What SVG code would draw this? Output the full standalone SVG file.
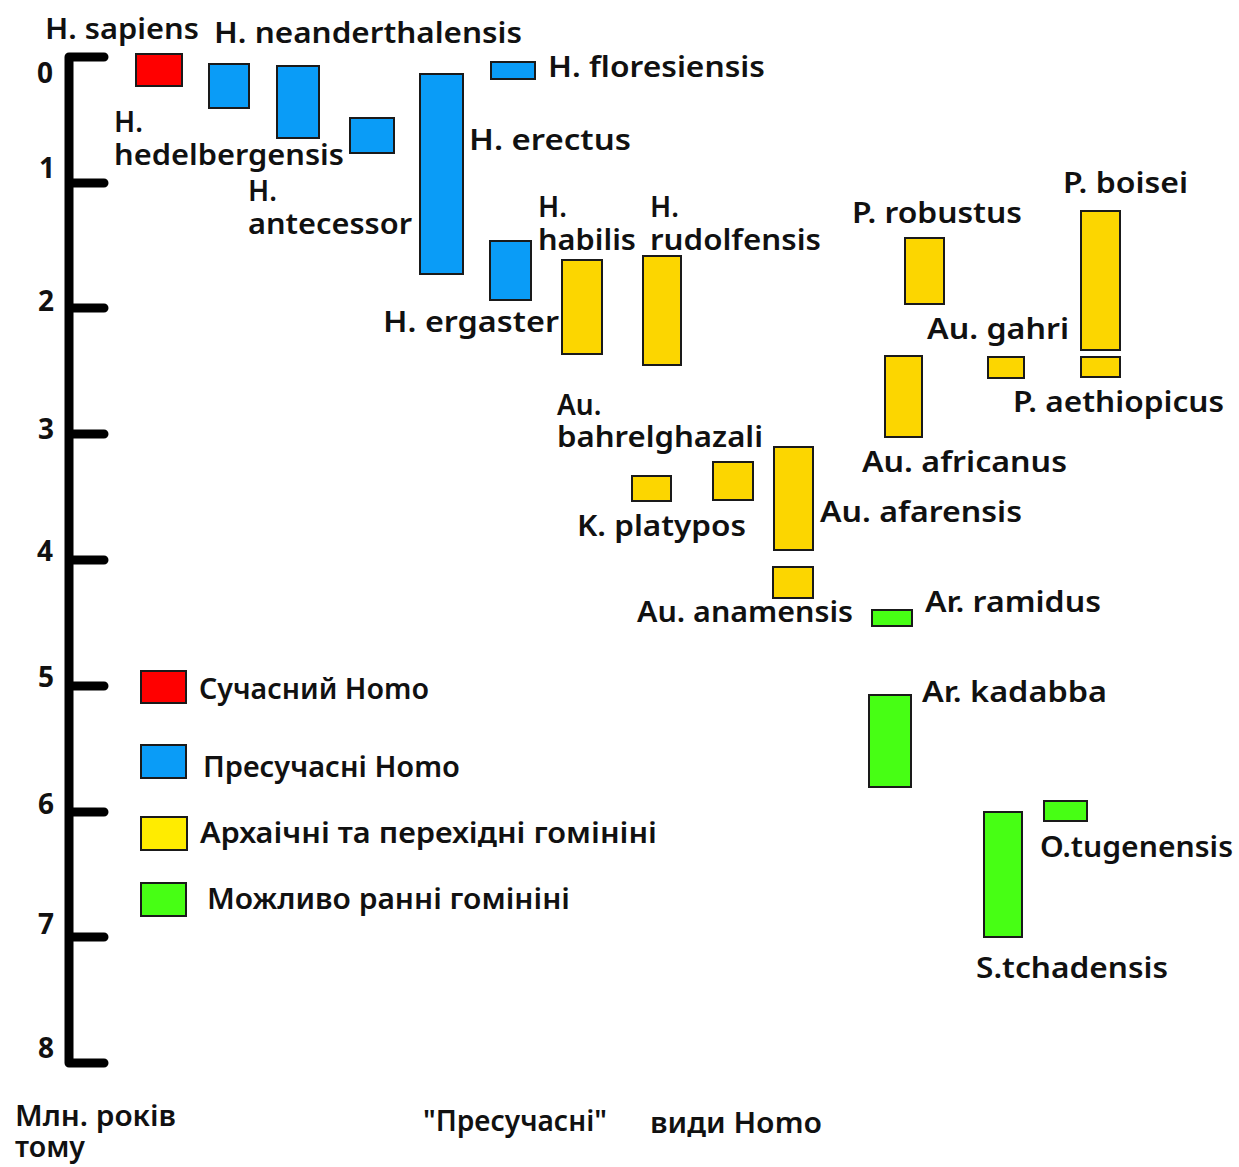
<svg xmlns="http://www.w3.org/2000/svg" width="1239" height="1167" viewBox="0 0 1239 1167">
<style>
text{font-family:"Noto Sans","DejaVu Sans",sans-serif;font-weight:600;font-size:28px;fill:#111}
.d{font-size:28px;font-weight:700}
.b{stroke:#1a1a1a;stroke-width:2}
.r{fill:#ff0000}.bl{fill:#0a9cf7}.y{fill:#fcd600}.g{fill:#47ff14}
.ly{fill:#ffec00}
</style>
<rect width="1239" height="1167" fill="#fff"/>
<g id="axis">
<path d="M104 57 H69 V1063 H104 M69 183 H104 M69 308 H104 M69 434 H104 M69 560 H104 M69 686 H104 M69 812 H104 M69 937 H104" fill="none" stroke="#000" stroke-width="9" stroke-linecap="round" stroke-linejoin="round"/>
<text class="d" x="37" y="83">0</text>
<text class="d" x="39" y="178">1</text>
<text class="d" x="38" y="311">2</text>
<text class="d" x="38" y="439">3</text>
<text class="d" x="37" y="561">4</text>
<text class="d" x="38" y="687">5</text>
<text class="d" x="38" y="814">6</text>
<text class="d" x="38" y="934">7</text>
<text class="d" x="38" y="1058">8</text>
<text x="15" y="1126"><tspan x="15" y="1126" textLength="161" lengthAdjust="spacingAndGlyphs">Млн. років</tspan><tspan x="15" y="1157" textLength="70" lengthAdjust="spacingAndGlyphs">тому</tspan></text>
<text x="423" y="1131" textLength="184" lengthAdjust="spacingAndGlyphs">"Пресучасні"</text>
<text x="650" y="1133" textLength="172" lengthAdjust="spacingAndGlyphs">види Homo</text>
</g>
<g id="connectors"></g>
<g id="h-sapiens"><rect class="b r" x="136" y="54" width="46" height="32"/><text x="45" y="39" textLength="154" lengthAdjust="spacingAndGlyphs">H. sapiens</text></g>
<g id="h-neanderthalensis"><rect class="b bl" x="209" y="64" width="40" height="44"/><text x="214" y="43" textLength="308" lengthAdjust="spacingAndGlyphs">H. neanderthalensis</text></g>
<g id="h-heidelbergensis"><rect class="b bl" x="277" y="66" width="42" height="72"/><text x="114" y="132"><tspan x="114" y="132">H.</tspan><tspan x="114" y="165" textLength="230" lengthAdjust="spacingAndGlyphs">hedelbergensis</tspan></text></g>
<g id="h-antecessor"><rect class="b bl" x="350" y="118" width="44" height="35"/><text x="248" y="201"><tspan x="248" y="201">H.</tspan><tspan x="248" y="234" textLength="164" lengthAdjust="spacingAndGlyphs">antecessor</tspan></text></g>
<g id="h-erectus"><rect class="b bl" x="420" y="74" width="43" height="200"/><text x="469" y="150" textLength="162" lengthAdjust="spacingAndGlyphs">H. erectus</text></g>
<g id="h-floresiensis"><rect class="b bl" x="491" y="62" width="44" height="17"/><text x="548" y="77" textLength="217" lengthAdjust="spacingAndGlyphs">H. floresiensis</text></g>
<g id="h-ergaster"><rect class="b bl" x="490" y="241" width="41" height="59"/><text x="383" y="332" textLength="176" lengthAdjust="spacingAndGlyphs">H. ergaster</text></g>
<g id="h-habilis"><rect class="b y" x="562" y="260" width="40" height="94"/><text x="538" y="217"><tspan x="538" y="217">H.</tspan><tspan x="538" y="250" textLength="98" lengthAdjust="spacingAndGlyphs">habilis</tspan></text></g>
<g id="h-rudolfensis"><rect class="b y" x="643" y="256" width="38" height="109"/><text x="650" y="217"><tspan x="650" y="217">H.</tspan><tspan x="650" y="250" textLength="171" lengthAdjust="spacingAndGlyphs">rudolfensis</tspan></text></g>
<g id="k-platypos"><rect class="b y" x="632" y="476" width="39" height="25"/><text x="577" y="536" textLength="169" lengthAdjust="spacingAndGlyphs">K. platypos</text></g>
<g id="au-bahrelghazali"><rect class="b y" x="713" y="462" width="40" height="38"/><text x="557" y="415"><tspan x="557" y="415">Au.</tspan><tspan x="557" y="447" textLength="206" lengthAdjust="spacingAndGlyphs">bahrelghazali</tspan></text></g>
<g id="au-afarensis"><rect class="b y" x="774" y="447" width="39" height="103"/><text x="820" y="522" textLength="202" lengthAdjust="spacingAndGlyphs">Au. afarensis</text></g>
<g id="au-anamensis"><rect class="b y" x="773" y="567" width="40" height="31"/><text x="637" y="622" textLength="216" lengthAdjust="spacingAndGlyphs">Au. anamensis</text></g>
<g id="p-robustus"><rect class="b y" x="905" y="238" width="39" height="66"/><text x="852" y="223" textLength="170" lengthAdjust="spacingAndGlyphs">P. robustus</text></g>
<g id="p-boisei"><rect class="b y" x="1081" y="211" width="39" height="139"/><text x="1063" y="193" textLength="125" lengthAdjust="spacingAndGlyphs">P. boisei</text></g>
<g id="au-gahri"><rect class="b y" x="988" y="357" width="36" height="21"/><text x="927" y="339" textLength="142" lengthAdjust="spacingAndGlyphs">Au. gahri</text></g>
<g id="p-aethiopicus"><rect class="b y" x="1081" y="357" width="39" height="20"/><text x="1013" y="412" textLength="211" lengthAdjust="spacingAndGlyphs">P. aethiopicus</text></g>
<g id="au-africanus"><rect class="b y" x="885" y="356" width="37" height="81"/><text x="862" y="472" textLength="205" lengthAdjust="spacingAndGlyphs">Au. africanus</text></g>
<g id="ar-ramidus"><rect class="b g" x="872" y="610" width="40" height="16"/><text x="925" y="612" textLength="176" lengthAdjust="spacingAndGlyphs">Ar. ramidus</text></g>
<g id="ar-kadabba"><rect class="b g" x="869" y="695" width="42" height="92"/><text x="922" y="702" textLength="185" lengthAdjust="spacingAndGlyphs">Ar. kadabba</text></g>
<g id="s-tchadensis"><rect class="b g" x="984" y="812" width="38" height="125"/><text x="976" y="978" textLength="192" lengthAdjust="spacingAndGlyphs">S.tchadensis</text></g>
<g id="o-tugenensis"><rect class="b g" x="1044" y="801" width="43" height="20"/><text x="1040" y="857" textLength="193" lengthAdjust="spacingAndGlyphs">O.tugenensis</text></g>
<g id="legend">
<rect class="b r" x="141" y="671" width="45" height="32"/><text x="199" y="699" textLength="230" lengthAdjust="spacingAndGlyphs">Сучасний Homo</text>
<rect class="b bl" x="141" y="745" width="45" height="33"/><text x="203" y="777" textLength="257" lengthAdjust="spacingAndGlyphs">Пресучасні Homo</text>
<rect class="b ly" x="141" y="817" width="46" height="33"/><text x="200" y="843" textLength="457" lengthAdjust="spacingAndGlyphs">Архаічні та перехідні гомініні</text>
<rect class="b g" x="141" y="883" width="45" height="33"/><text x="207" y="909" textLength="363" lengthAdjust="spacingAndGlyphs">Можливо ранні гомініні</text>
</g>
</svg>
